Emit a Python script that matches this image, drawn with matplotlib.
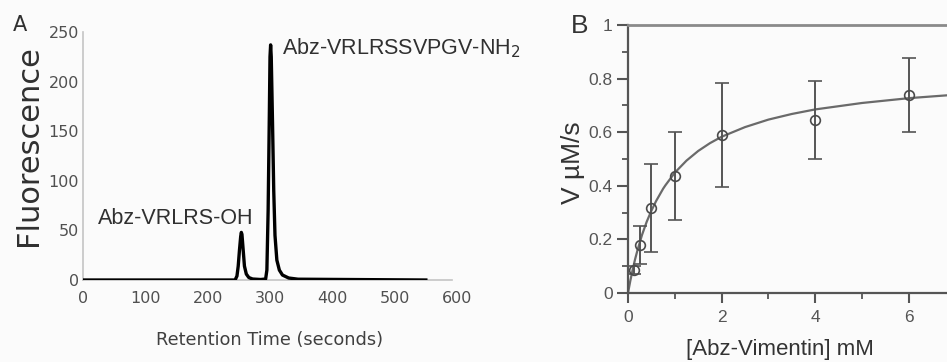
import matplotlib
matplotlib.use("Agg")
import matplotlib.pyplot as plt
from matplotlib.ticker import MultipleLocator

# ---------------- Panel A data (chromatogram trace) ----------------
time_s = [0, 244, 247, 249, 251, 253, 254, 255, 257, 259, 262, 266, 272, 285,
          293, 295, 297, 299, 300, 301, 302, 304, 306, 308, 311, 315, 320, 330, 345, 550]
fluor = [0, 0, 4, 14, 30, 44, 48, 46, 30, 14, 6, 2.5, 1, 0.5,
         1, 10, 70, 170, 225, 237, 225, 160, 90, 45, 20, 10, 5, 2, 0.8, 0]
a_xticks = [0, 100, 200, 300, 400, 500, 600]
a_yticks = [0, 50, 100, 150, 200, 250]
peak_small_label = "Abz-VRLRS-OH"
peak_big_label = "Abz-VRLRSSVPGV-NH$_2$"

# ---------------- Panel B data ----------------
substrate = [0.125, 0.25, 0.5, 1, 2, 4, 6]
velocity = [0.086, 0.18, 0.317, 0.435, 0.59, 0.645, 0.74]
vel_err = [0.015, 0.07, 0.163, 0.164, 0.194, 0.146, 0.138]
fit_s = [0, 0.05, 0.1, 0.15, 0.2, 0.3, 0.4, 0.5, 0.6, 0.75, 0.8, 1, 1.25, 1.5, 1.75,
         2, 2.5, 3, 3.5, 4, 5, 6, 7, 8]
fit_v = [0, 0.046, 0.087, 0.125, 0.158, 0.217, 0.266, 0.307, 0.343, 0.389, 0.402,
         0.449, 0.494, 0.530, 0.559, 0.583, 0.619, 0.647, 0.668, 0.685, 0.709,
         0.727, 0.740, 0.750]
b_xticks = [0, 2, 4, 6]
b_yticks = [0, 0.2, 0.4, 0.6, 0.8, 1]
b_yticklabels = ["0", "0.2", "0.4", "0.6", "0.8", "1"]

W, H = 947, 362
BG = "#fbfbfb"
fig = plt.figure(figsize=(W / 100, H / 100), dpi=100, facecolor=BG)


def px_rect(left, top, right, bottom):
    return [left / W, (H - bottom) / H, (right - left) / W, (bottom - top) / H]


# ---------------- Panel A ----------------
axA = fig.add_axes(px_rect(83, 32, 457, 280))
axA.set_facecolor(BG)
axA.plot(time_s, fluor, color="black", lw=2.4, solid_joinstyle="round", zorder=3)
axA.set_xlim(0, 600)
axA.set_ylim(0, 250)
axA.set_xticks(a_xticks)
axA.set_yticks(a_yticks)
for s in ["top", "right"]:
    axA.spines[s].set_visible(False)
for s in ["left", "bottom"]:
    axA.spines[s].set_color("#c4c4c4")
    axA.spines[s].set_linewidth(1.2)
axA.spines["bottom"].set_bounds(0, 592)
axA.tick_params(axis="both", length=0, colors="#505050", labelsize=11.5)
axA.tick_params(axis="x", pad=8)
axA.tick_params(axis="y", pad=3)
for lab in axA.get_xticklabels() + axA.get_yticklabels():
    lab.set_family("DejaVu Sans")
axA.text(98 / W, 1 - 218 / H, peak_small_label, transform=fig.transFigure,
         ha="left", va="center", fontsize=15.5, color="#303030", family="Liberation Sans")
axA.text(282 / W, 1 - 48 / H, peak_big_label, transform=fig.transFigure,
         ha="left", va="center", fontsize=15.5, color="#303030", family="Liberation Sans")

fig.text(29 / W, 1 - 146 / H, "Fluorescence", rotation=90, ha="center", va="center",
         fontsize=22, color="#303030", family="DejaVu Sans")
fig.text(270 / W, 1 - 340 / H, "Retention Time (seconds)", ha="center", va="center",
         fontsize=12.8, color="#404040", family="DejaVu Sans")
fig.text(20 / W, 1 - 25 / H, "A", ha="center", va="center", fontsize=15,
         color="#303030", family="DejaVu Sans")

# ---------------- Panel B ----------------
x0, xscale = 628, 46.8
axB = fig.add_axes(px_rect(x0, 25, x0 + 8 * xscale, 293))
axB.set_facecolor(BG)
axB.plot(fit_s, fit_v, color="#6a6a6a", lw=1.6, zorder=2)
axB.errorbar(substrate, velocity, yerr=vel_err, fmt="o", mfc="none", mec="#4a4a4a",
             ms=7, mew=1.2, ecolor="#555555", elinewidth=1.4, capsize=5, capthick=1.4,
             zorder=3)
axB.set_xlim(0, 8)
axB.set_ylim(0, 1)
axB.set_xticks(b_xticks)
axB.set_yticks(b_yticks)
axB.set_yticklabels(b_yticklabels)
axB.xaxis.set_minor_locator(MultipleLocator(1))
axB.yaxis.set_minor_locator(MultipleLocator(0.1))
axB.spines["right"].set_visible(False)
axB.spines["top"].set_color("#8a8a8a")
axB.spines["top"].set_linewidth(2)
for s in ["left", "bottom"]:
    axB.spines[s].set_color("#555555")
    axB.spines[s].set_linewidth(1.6)
axB.tick_params(axis="both", which="major", direction="out", colors="#555555",
                width=1.5, labelsize=12.5)
axB.tick_params(axis="y", which="major", length=8, pad=3)
axB.tick_params(axis="y", which="minor", length=4.5, width=1.3, color="#555555")
axB.tick_params(axis="x", which="major", length=7, pad=5)
axB.tick_params(axis="x", which="minor", length=4, width=1.3, color="#555555")
for lab in axB.get_xticklabels() + axB.get_yticklabels():
    lab.set_family("Liberation Sans")

fig.text(573 / W, 1 - 163 / H, "V µM/s", rotation=90, ha="center", va="center",
         fontsize=19, color="#333333", family="Liberation Sans")
fig.text(780 / W, 1 - 349 / H, "[Abz-Vimentin] mM", ha="center", va="center",
         fontsize=16, color="#333333", family="Liberation Sans")
fig.text(580 / W, 1 - 26 / H, "B", ha="center", va="center", fontsize=19,
         color="#333333", family="Liberation Sans")

fig.savefig("out.png", dpi=100, facecolor=BG)
